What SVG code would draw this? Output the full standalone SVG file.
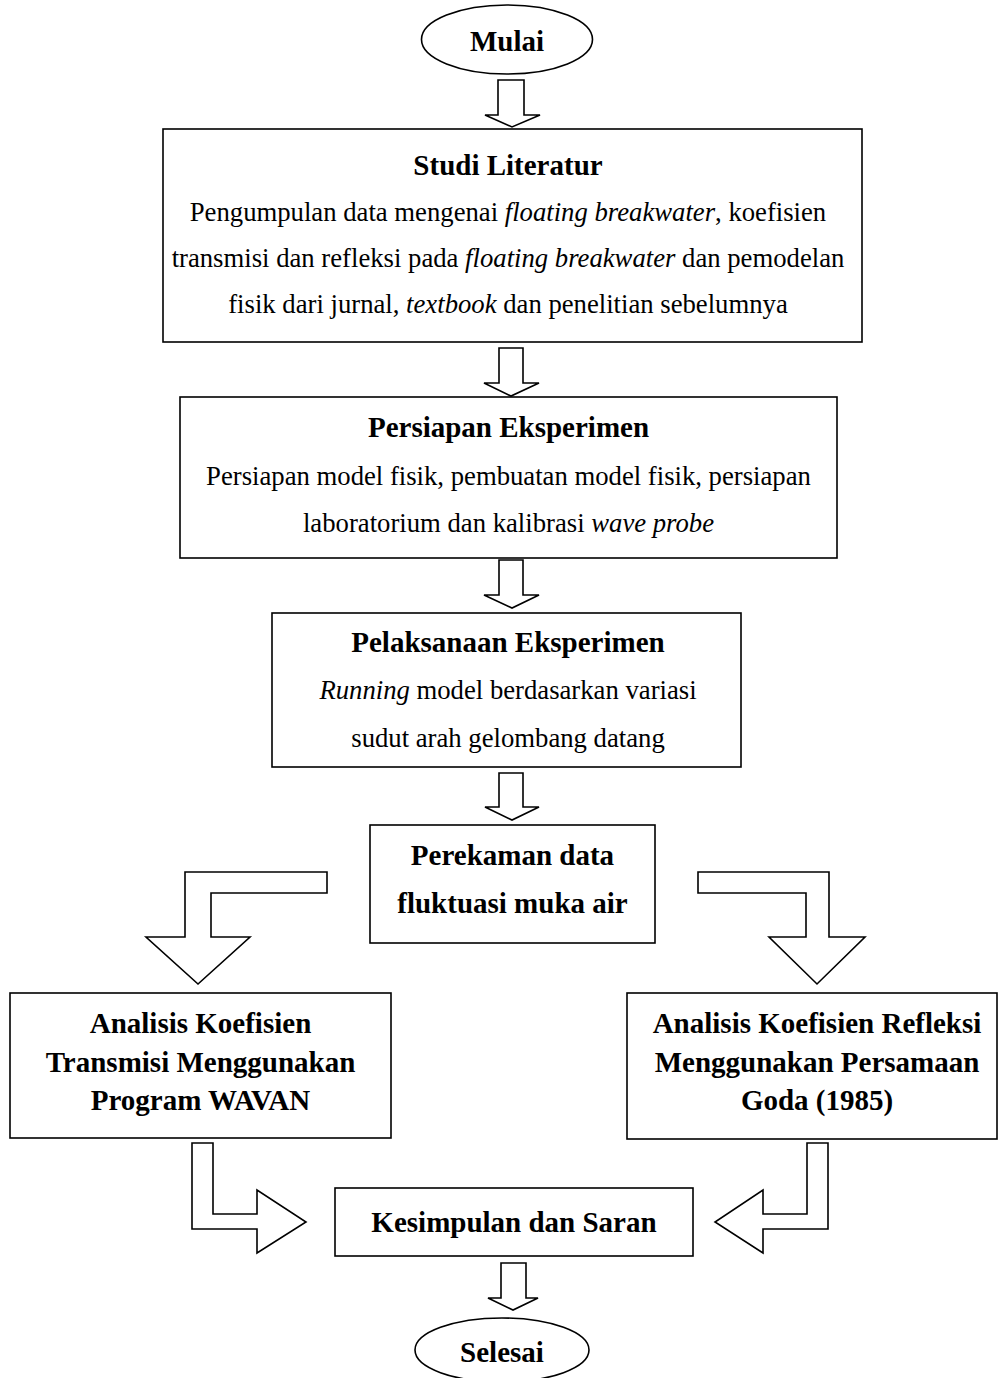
<svg xmlns="http://www.w3.org/2000/svg" width="998" height="1378" viewBox="0 0 998 1378">
<style>
.box{fill:#fff;stroke:#000;stroke-width:1.6}
.arr{fill:#fff;stroke:#000;stroke-width:1.6;stroke-linejoin:miter}
.t{font-family:"Liberation Serif","Times New Roman",serif;font-weight:bold;font-size:29px;text-anchor:middle;fill:#000}
.b{font-family:"Liberation Serif","Times New Roman",serif;font-size:26.7px;text-anchor:middle;fill:#000}
.i{font-style:italic}
</style>
<rect width="998" height="1378" fill="#fff"/>
<g id="connectors">
<polygon class="arr" points="498,80 524,80 524,115 540,115 512,127 485,115 498,115"/>
<polygon class="arr" points="499,348 523,348 523,383 539,383 511,396 484,383 499,383"/>
<polygon class="arr" points="499,560 523,560 523,595 539,595 512,608 484,595 499,595"/>
<polygon class="arr" points="499,773 523,773 523,807 539,807 512,820 485,807 499,807"/>
<polygon class="arr" points="327,872 185,872 185,937 146,937 198,984 250,937 211,937 211,893 327,893"/>
<polygon class="arr" points="698,872 829,872 829,937 865,937 817,984 769,937 806,937 806,893 698,893"/>
<polygon class="arr" points="192,1143 213,1143 213,1214 257,1214 257,1190 306,1222 257,1253 257,1229 192,1229"/>
<polygon class="arr" points="807,1143 828,1143 828,1229 763,1229 763,1253 715,1222 763,1190 763,1214 807,1214"/>
<polygon class="arr" points="501,1263 526,1263 526,1298 538,1298 513,1310 488,1298 501,1298"/>
</g>
<g id="mulai">
<ellipse class="box" cx="507" cy="39.5" rx="85.5" ry="34.5"/>
<text class="t" x="507" y="51">Mulai</text>
</g>
<g id="studi">
<rect class="box" x="163" y="129" width="699" height="213"/>
<text class="t" x="508" y="175">Studi Literatur</text>
<text class="b" x="508" y="221">Pengumpulan data mengenai <tspan class="i">floating breakwater</tspan>, koefisien</text>
<text class="b" x="508" y="267">transmisi dan refleksi pada <tspan class="i">floating breakwater</tspan> dan pemodelan</text>
<text class="b" x="508" y="313">fisik dari jurnal, <tspan class="i">textbook</tspan> dan penelitian sebelumnya</text>
</g>
<g id="persiapan">
<rect class="box" x="180" y="397" width="657" height="161"/>
<text class="t" x="508.5" y="437">Persiapan Eksperimen</text>
<text class="b" x="508.5" y="485">Persiapan model fisik, pembuatan model fisik, persiapan</text>
<text class="b" x="508.5" y="532">laboratorium dan kalibrasi <tspan class="i">wave probe</tspan></text>
</g>
<g id="pelaksanaan">
<rect class="box" x="272" y="613" width="469" height="154"/>
<text class="t" x="508" y="652">Pelaksanaan Eksperimen</text>
<text class="b" x="508" y="699"><tspan class="i">Running</tspan> model berdasarkan variasi</text>
<text class="b" x="508" y="747">sudut arah gelombang datang</text>
</g>
<g id="perekaman">
<rect class="box" x="370" y="825" width="285" height="118"/>
<text class="t" x="512.5" y="865">Perekaman data</text>
<text class="t" x="512.5" y="913">fluktuasi muka air</text>
</g>
<g id="transmisi">
<rect class="box" x="10" y="993" width="381" height="145"/>
<text class="t" x="200.5" y="1033">Analisis Koefisien</text>
<text class="t" x="200.5" y="1072">Transmisi Menggunakan</text>
<text class="t" x="200.5" y="1110">Program WAVAN</text>
</g>
<g id="refleksi">
<rect class="box" x="627" y="993" width="370" height="146"/>
<text class="t" x="817" y="1033">Analisis Koefisien Refleksi</text>
<text class="t" x="817" y="1072">Menggunakan Persamaan</text>
<text class="t" x="817" y="1110">Goda (1985)</text>
</g>
<g id="kesimpulan">
<rect class="box" x="335" y="1188" width="358" height="68"/>
<text class="t" x="514" y="1232">Kesimpulan dan Saran</text>
</g>
<g id="selesai">
<ellipse class="box" cx="502" cy="1350" rx="87" ry="32"/>
<text class="t" x="502" y="1362">Selesai</text>
</g>
</svg>
